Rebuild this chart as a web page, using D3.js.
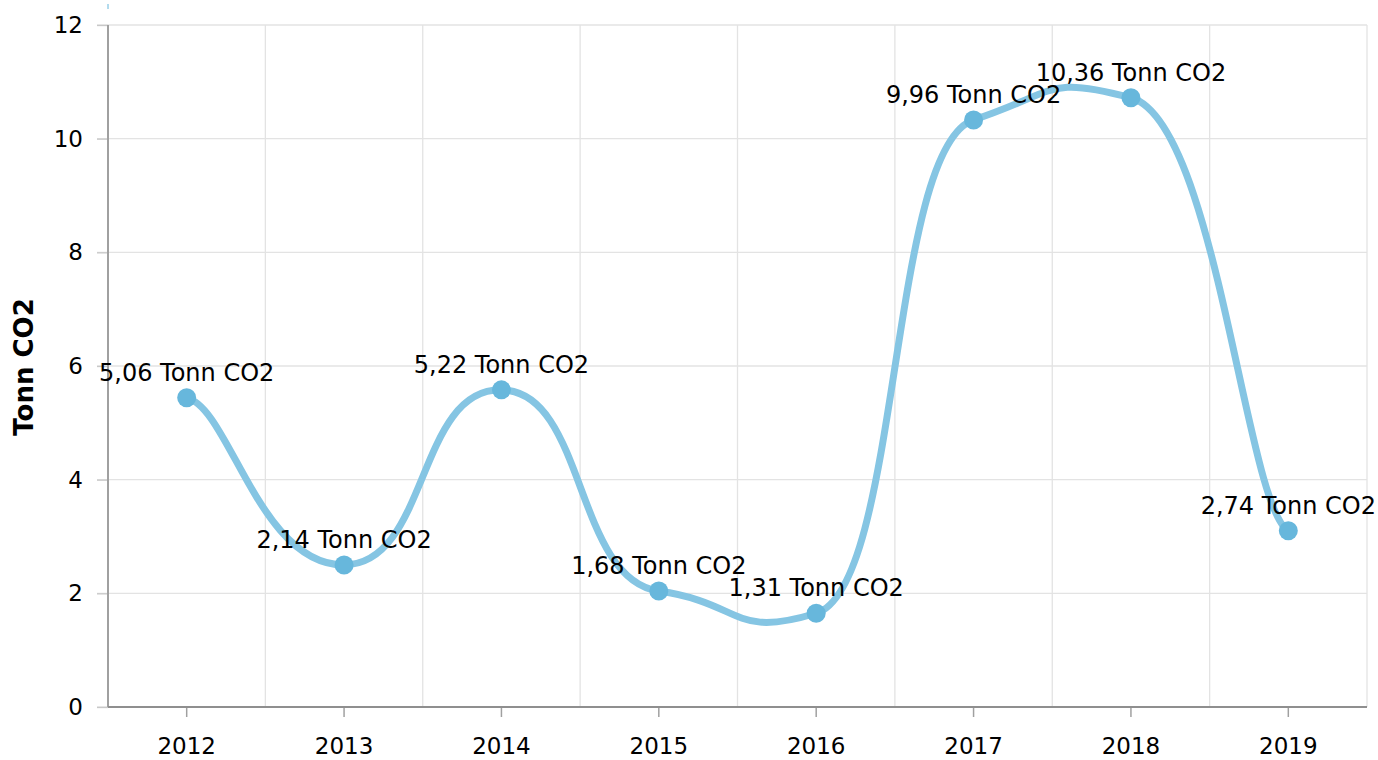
<!DOCTYPE html>
<html><head><meta charset="utf-8">
<script src="https://cdn.jsdelivr.net/npm/d3@7"></script>
<style>body{margin:0;background:#fff;}svg{display:block;font-family:"DejaVu Sans",Verdana,sans-serif;}</style>
</head><body>
<svg id="c" width="1378" height="760"></svg>
<script>
const years = ["2012","2013","2014","2015","2016","2017","2018","2019"];
const values = [5.44, 2.50, 5.58, 2.04, 1.65, 10.33, 10.72, 3.10];
const labels = ["5,06 Tonn CO2","2,14 Tonn CO2","5,22 Tonn CO2","1,68 Tonn CO2","1,31 Tonn CO2","9,96 Tonn CO2","10,36 Tonn CO2","2,74 Tonn CO2"];
const yTicks = [0,2,4,6,8,10,12];
const yTitle = "Tonn CO2";

const svg = d3.select("#c");
const m = {l:108, r:1367, t:25, b:707};
const x = d3.scaleBand().domain(years).range([m.l, m.r]).paddingInner(0).paddingOuter(0);
const y = d3.scaleLinear().domain([0,12]).range([m.b, m.t]);
const cx = d => x(d) + x.bandwidth()/2;

// horizontal grid
svg.append("g").selectAll("line").data(yTicks).join("line")
  .attr("x1", m.l-11).attr("x2", m.r).attr("y1", d=>y(d)).attr("y2", d=>y(d))
  .attr("stroke", "#e3e3e3").attr("stroke-width", 1.3);
// vertical grid at band boundaries
const bounds = years.slice(1).map(d=>x(d)).concat([m.r]);
svg.append("g").selectAll("line").data(bounds).join("line")
  .attr("x1", d=>d).attr("x2", d=>d).attr("y1", m.t).attr("y2", m.b)
  .attr("stroke", "#e3e3e3").attr("stroke-width", 1.3);

// y axis
const yAx = svg.append("g").attr("transform", `translate(${m.l},0)`)
  .call(d3.axisLeft(y).tickValues(yTicks).tickSize(11).tickPadding(14));
yAx.select(".domain").remove();
yAx.selectAll(".tick line").attr("stroke", "#c8c8c8").attr("stroke-width",1.3);
yAx.selectAll(".tick text").attr("font-size", 23).attr("fill", "#000").attr("font-family","DejaVu Sans, sans-serif");
svg.append("line").attr("x1", m.l).attr("x2", m.l).attr("y1", m.t).attr("y2", m.b)
  .attr("stroke", "#a0a0a0").attr("stroke-width", 2);

// x axis
const xAx = svg.append("g").attr("transform", `translate(0,${m.b})`)
  .call(d3.axisBottom(x).tickSize(10).tickPadding(21));
xAx.select(".domain").remove();
xAx.selectAll(".tick line").attr("stroke", "#a0a0a0").attr("stroke-width",1.5);
xAx.selectAll(".tick text").attr("font-size", 23).attr("fill", "#000").attr("font-family","DejaVu Sans, sans-serif");
svg.append("line").attr("x1", m.l).attr("x2", m.r).attr("y1", m.b).attr("y2", m.b)
  .attr("stroke", "#8f8f8f").attr("stroke-width", 2);

// small marker at top
svg.append("line").attr("x1", m.l).attr("x2", m.l).attr("y1", 4).attr("y2", 9)
  .attr("stroke", "#67b7dc").attr("stroke-width", 1);

// y title
svg.append("text").attr("transform", "translate(33,367) rotate(-90)")
  .attr("text-anchor","middle").attr("font-size", 26).attr("font-weight","bold").text(yTitle);

// smoothed line (separate x / y tension)
const pts = values.map((v,i)=>[cx(years[i]), y(v)]);
const ax = 0.27, ay = 0.055;
const p = d3.path();
p.moveTo(pts[0][0], pts[0][1]);
for (let i = 0; i < pts.length-1; i++) {
  const p1 = pts[i], p2 = pts[i+1];
  const p0 = i === 0 ? p1 : pts[i-1];
  const p3 = i === pts.length-2 ? p2 : pts[i+2];
  p.bezierCurveTo(p1[0] + ax*(p2[0]-p0[0]), p1[1] + ay*(p2[1]-p0[1]),
                  p2[0] - ax*(p3[0]-p1[0]), p2[1] - ay*(p3[1]-p1[1]),
                  p2[0], p2[1]);
}
svg.append("path").attr("d", p.toString()).attr("fill","none")
  .attr("stroke", "#85c5e3").attr("stroke-width", 7).attr("stroke-linejoin","round");

// points
svg.append("g").selectAll("circle").data(values).join("circle")
  .attr("cx", (d,i)=>cx(years[i])).attr("cy", d=>y(d)).attr("r", 9.5)
  .attr("fill", "#67b7dc");

// labels
svg.append("g").selectAll("text").data(values).join("text")
  .attr("x", (d,i)=>cx(years[i])).attr("y", d=>y(d)-17)
  .attr("text-anchor","middle").attr("font-size", 24).attr("fill","#000")
  .text((d,i)=>labels[i]);
</script>
</body></html>
